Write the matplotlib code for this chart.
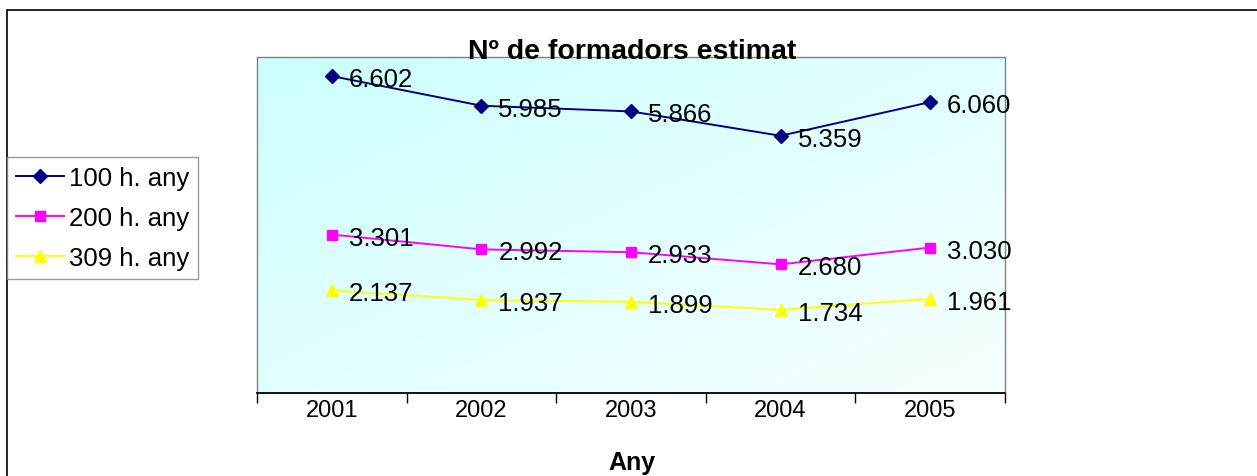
import matplotlib
matplotlib.use("Agg")
import matplotlib.pyplot as plt
import numpy as np
from matplotlib.patches import Rectangle

years = ["2001", "2002", "2003", "2004", "2005"]
s100 = [6.602, 5.985, 5.866, 5.359, 6.060]
s200 = [3.301, 2.992, 2.933, 2.680, 3.030]
s309 = [2.137, 1.937, 1.899, 1.734, 1.961]
series_names = ["100 h. any", "200 h. any", "309 h. any"]
title = "Nº de formadors estimat"
xlabel = "Any"

plt.rcParams['font.family'] = ['Liberation Sans', 'DejaVu Sans']

W, H = 1257, 477
fig = plt.figure(figsize=(W / 100, H / 100), dpi=100)

# outer chart frame (left and top edges visible)
fig.patches.append(Rectangle((7 / W, -0.1), 1.2, 1 - 11 / H + 0.1, transform=fig.transFigure,
                             fill=False, edgecolor="black", linewidth=1.2, zorder=0))

ax = fig.add_axes([257 / W, (H - 394) / H, (1005 - 257) / W, (394 - 58) / H])

# gradient background: cyan top-left -> near white bottom-right
n = 200
xx, yy = np.meshgrid(np.linspace(0, 1, n), np.linspace(0, 1, n))
t = np.clip((xx + yy) / 2.0, 0, 1)  # row 0 is top with origin='upper'
c0 = np.array([0.80, 1.0, 1.0])
c1 = np.array([0.97, 1.0, 1.0])
img = c0[None, None, :] * (1 - t[..., None]) + c1[None, None, :] * t[..., None]
ax.imshow(img, extent=[0, 1, 0, 1], transform=ax.transAxes, aspect="auto", zorder=0, origin="upper")

x = np.arange(1, len(years) + 1)
styles = [
    (s100, "#000080", "D", 7.5),
    (s200, "#FF00FF", "s", 7),
    (s309, "#FFFF00", "^", 9),
]
lines = []
for (vals, col, mk, ms), name in zip(styles, series_names):
    ln, = ax.plot(x, vals, color=col, marker=mk, markersize=ms, linewidth=1.4,
                  markeredgecolor=col, markerfacecolor=col, label=name, zorder=3)
    lines.append(ln)
    for xi, v in zip(x, vals):
        ax.annotate(f"{v:.3f}", (xi, v), xytext=(17, -3), textcoords="offset pixels",
                    ha="left", va="center", fontsize=18.5, color="black", zorder=4)

ax.set_xlim(0.5, len(years) + 0.5)
ax.set_ylim(0, 7)
ax.set_yticks([])
ax.set_xticks(np.arange(0.5, len(years) + 1.0, 1.0))
ax.set_xticklabels([])
ax.set_xticks(x, minor=True)
ax.set_xticklabels(years, minor=True, fontsize=17)
ax.tick_params(axis="x", which="major", direction="out", length=7, width=1, color="black")
ax.tick_params(axis="x", which="minor", length=0, pad=4)
for s in ["left", "right", "top"]:
    ax.spines[s].set_color("#808080")
    ax.spines[s].set_linewidth(1)
ax.spines["bottom"].set_color("black")
ax.spines["bottom"].set_linewidth(1.3)

fig.text(632 / W, 1 - 52 / H, title, ha="center", va="center", fontsize=20.5, fontweight="bold")
fig.text(632 / W, 1 - 463 / H, xlabel, ha="center", va="center", fontsize=18, fontweight="bold")

leg = fig.legend(handles=lines, loc="upper left", bbox_to_anchor=(7 / W, 1 - 158 / H),
                 bbox_transform=fig.transFigure, fontsize=18.5, frameon=True, fancybox=False,
                 edgecolor="#808080", handlelength=1.85, handletextpad=0.2, borderpad=0.35,
                 labelspacing=0.62, borderaxespad=0)
leg.get_frame().set_linewidth(1)

fig.savefig("out.png", dpi=100)
